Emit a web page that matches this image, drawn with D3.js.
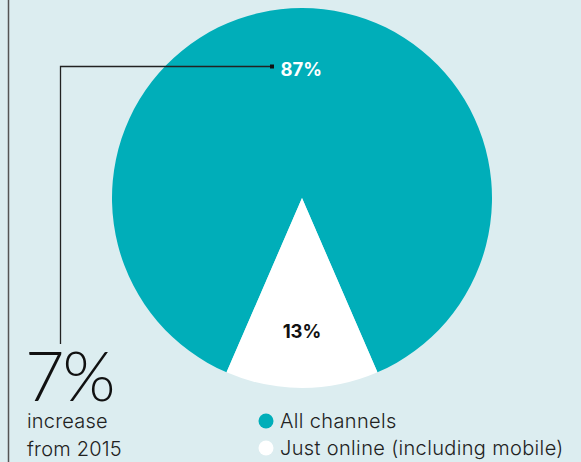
<!DOCTYPE html>
<html>
<head>
<meta charset="utf-8">
<script src="https://cdn.jsdelivr.net/npm/d3@7"></script>
<style>
  body { margin: 0; background: #dcedf0; }
  svg { display: block; }
  .lbl { font-family: Inter, "Noto Sans", sans-serif; }
</style>
</head>
<body>
<div id="chart"></div>
<script>
'use strict';

const categories = ["All channels", "Just online (including mobile)"];
const shares = [87, 13];
const shareLabels = ["87%", "13%"];
const headline = "7%";
const headlineNote = ["increase", "from 2015"];

const width = 581,
      height = 462,
      cx = 302,
      cy = 198,
      radius = 190,
      colors = ["#00aeb9", "#ffffff"];

const svg = d3.select("#chart").append("svg")
  .attr("width", width)
  .attr("height", height);

svg.append("rect")
  .attr("width", width)
  .attr("height", height)
  .attr("fill", "#dcedf0");

// left rule
svg.append("line")
  .attr("x1", 8.5).attr("x2", 8.5)
  .attr("y1", 0).attr("y2", height)
  .attr("stroke", "#555")
  .attr("stroke-width", 1.5);

// pie, small slice centred at the bottom
const start = Math.PI + Math.PI * shares[1] / 100;
const pie = d3.pie()
  .sort(null)
  .value(d => d)
  .startAngle(start)
  .endAngle(start + 2 * Math.PI);
const arc = d3.arc().innerRadius(0).outerRadius(radius);
const arcs = pie(shares);

const g = svg.append("g").attr("transform", `translate(${cx},${cy})`);
g.selectAll("path")
  .data(arcs)
  .join("path")
  .attr("d", arc)
  .attr("fill", (d, i) => colors[i]);

// labels
g.append("text")
  .attr("class", "lbl")
  .attr("x", -21.5).attr("y", -122)
  .attr("fill", "#fff")
  .attr("font-size", 18.5)
  .attr("font-weight", 700)
  .text(shareLabels[0]);

g.append("text")
  .attr("class", "lbl")
  .attr("x", 0).attr("y", 140)
  .attr("text-anchor", "middle")
  .attr("fill", "#111")
  .attr("font-size", 18.5)
  .attr("font-weight", 700)
  .text(shareLabels[1]);

// connector from the big share to the headline
svg.append("path")
  .attr("d", "M272,66.5 H60.5 V344")
  .attr("fill", "none")
  .attr("stroke", "#222")
  .attr("stroke-width", 1.3);
svg.append("rect")
  .attr("x", 270).attr("y", 64.5)
  .attr("width", 4).attr("height", 4)
  .attr("fill", "#111");

// headline
svg.append("text")
  .attr("x", 25).attr("y", 401)
  .attr("font-family", "Lato, Inter, sans-serif")
  .attr("font-size", 68)
  .attr("font-weight", 300)
  .attr("letter-spacing", -2)
  .attr("fill", "#111")
  .text(headline);

svg.selectAll("text.note")
  .data(headlineNote)
  .join("text")
  .attr("class", "lbl note")
  .attr("x", 27)
  .attr("y", (d, i) => 428 + i * 28)
  .attr("font-size", 20)
  .attr("font-weight", 300)
  .attr("letter-spacing", 0.2)
  .attr("fill", "#222")
  .text(d => d);

// legend
const legend = svg.append("g").selectAll("g")
  .data(categories)
  .join("g")
  .attr("transform", (d, i) => `translate(266,${421 + i * 27})`);
legend.append("circle")
  .attr("r", 7.5)
  .attr("fill", (d, i) => colors[i]);
legend.append("text")
  .attr("class", "lbl")
  .attr("x", 14)
  .attr("y", 6.5)
  .attr("font-size", 20)
  .attr("font-weight", 300)
  .attr("letter-spacing", 0.35)
  .attr("fill", "#222")
  .text(d => d);
</script>
</body>
</html>
